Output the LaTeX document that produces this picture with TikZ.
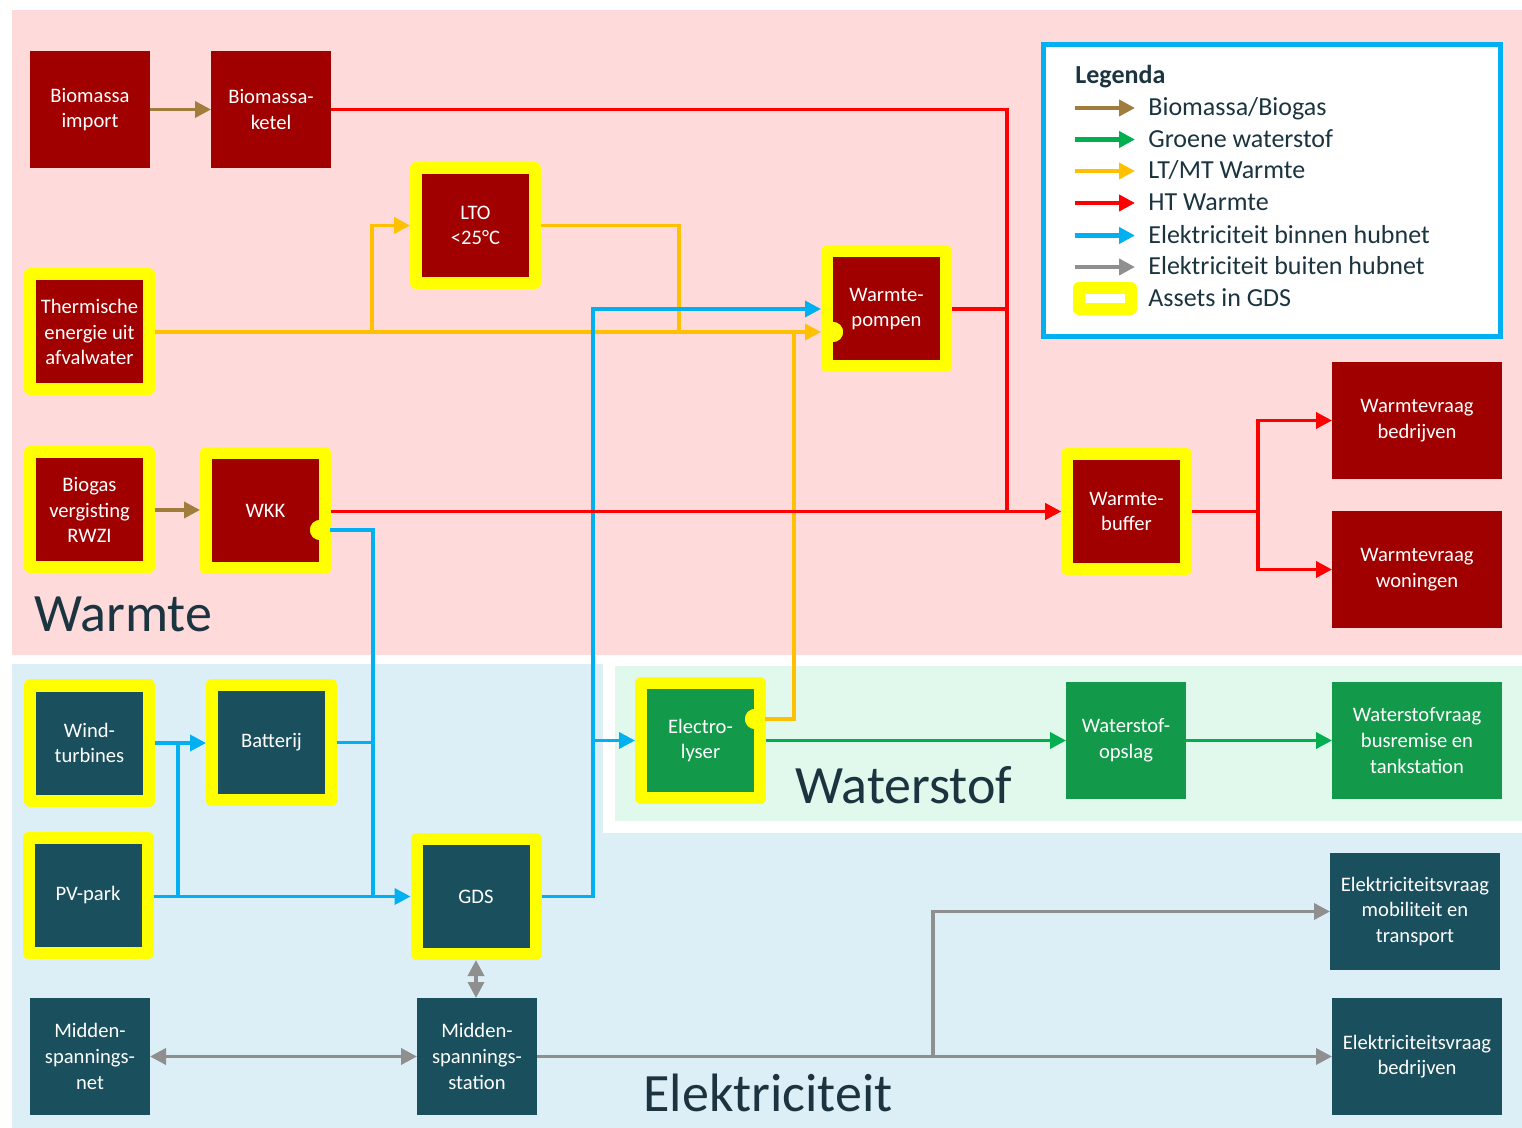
\documentclass[tikz,border=0pt]{standalone}
\usepackage{fontspec}
\setmainfont{Carlito}
\usetikzlibrary{arrows.meta}
\definecolor{dred}{HTML}{A00000}
\definecolor{dteal}{HTML}{1A4F5E}
\definecolor{hgreen}{HTML}{13994A}
\definecolor{yel}{HTML}{FFFF00}
\definecolor{cbrown}{HTML}{A07D3C}
\definecolor{cred}{HTML}{FF0000}
\definecolor{corange}{HTML}{FFC000}
\definecolor{cblue}{HTML}{00B0F0}
\definecolor{cgray}{HTML}{8F8F8F}
\definecolor{cgreen}{HTML}{00B050}
\definecolor{bgpink}{HTML}{FFDADA}
\definecolor{bgblue}{HTML}{DCEEF6}
\definecolor{bggreen}{HTML}{E0F9EC}
\definecolor{ltext}{HTML}{1B3440}
\begin{document}
\begin{tikzpicture}[x=0.5pt,y=-0.5pt,
  box/.style={inner sep=0pt, outer sep=0pt, align=center, text=white,
    font=\fontsize{10.3}{12.8}\selectfont, minimum width=60pt, minimum height=58.5pt},
  rbox/.style={box, fill=dred},
  tbox/.style={box, fill=dteal},
  gbox/.style={box, fill=hgreen},
  wide/.style={minimum width=85pt},
  gdsasset/.style={draw=yel, line width=6pt, line join=round, outer sep=3pt,
    minimum width=59.5pt, minimum height=57.5pt},
  dotn/.style={circle, fill=yel, inner sep=0pt, outer sep=0pt, minimum size=10pt},
  con/.style={line width=1.8pt},
  arr/.style={-{Triangle[length=8pt,width=8pt]}},
  darr/.style={{Triangle[length=8pt,width=8pt]}-{Triangle[length=8pt,width=8pt]}},
  bioline/.style={con, draw=cbrown},
  htline/.style={con, draw=cred},
  ltline/.style={con, draw=corange},
  elin/.style={con, draw=cblue},
  eloutline/.style={con, draw=cgray},
  h2line/.style={con, draw=cgreen},
  biglabel/.style={font=\fontsize{27}{32}\selectfont, text=ltext, inner sep=0pt, anchor=base west},
  legtext/.style={font=\fontsize{13}{15}\selectfont, text=ltext, inner sep=0pt, anchor=base west},
  legarrow/.style={line width=2.3pt, arr}
]
\useasboundingbox (0,0) rectangle (1522,1128);
% backgrounds
\fill[white] (0,0) rectangle (1522,1128);
\fill[bgpink] (12,10) rectangle (1522,655);
\fill[bgblue] (12,664) rectangle (1522,1128);
\fill[white] (603,664) rectangle (1522,833);
\fill[bggreen] (615,666) rectangle (1522,821);

% region labels
\node[biglabel] (lwarmte) at (34,632) {Warmte};
\node[biglabel] (lwater) at (795,803) {Waterstof};
\node[biglabel] (lelek) at (643,1111) {Elektriciteit};

% nodes
\node[rbox] (bimp) at (90,109.5) {Biomassa\\import};
\node[rbox] (bket) at (271,109.5) {Biomassa-\\ketel};
\node[rbox,gdsasset] (lto) at (475.5,225.5) {LTO\\<25°C};
\node[rbox,gdsasset] (therm) at (89.5,332) {Thermische\\energie uit\\afvalwater};
\node[rbox,gdsasset] (wp) at (886.5,309) {Warmte-\\pompen};
\node[rbox,gdsasset] (wbuf) at (1126.5,511.5) {Warmte-\\buffer};
\node[rbox,wide] (wvb) at (1417,420.5) {Warmtevraag\\bedrijven};
\node[rbox,wide] (wvw) at (1417,569.5) {Warmtevraag\\woningen};
\node[rbox,gdsasset] (biogas) at (89.5,510) {Biogas\\vergisting\\RWZI};
\node[rbox,gdsasset] (wkk) at (265.5,511) {WKK};
\node[tbox,gdsasset] (wind) at (89.5,743) {Wind-\\turbines};
\node[tbox,gdsasset] (batt) at (271.5,742.5) {Batterij};
\node[tbox,gdsasset] (pv) at (88,895.5) {PV-park};
\node[tbox,gdsasset] (gdsn) at (476,896.5) {GDS};
\node[tbox] (msnet) at (90,1056.5) {Midden-\\spannings-\\net};
\node[tbox] (msst) at (477,1056.5) {Midden-\\spannings-\\station};
\node[gbox,gdsasset] (elec) at (700.5,740.5) {Electro-\\lyser};
\node[gbox] (wsop) at (1126,740.5) {Waterstof-\\opslag};
\node[gbox,wide] (wsvr) at (1417,740.5) {Waterstofvraag\\busremise en\\tankstation};
\node[tbox,wide] (evmob) at (1415,911.5) {Elektriciteitsvraag\\mobiliteit en\\transport};
\node[tbox,wide] (evbed) at (1417,1056.5) {Elektriciteitsvraag\\bedrijven};

% port dots
\node[dotn] (dwkk) at (320,530) {};
\node[dotn] (dwp) at (833,332) {};
\node[dotn] (delec) at (755,719) {};

% junction coordinates
\coordinate (jR) at (1007,511.5);
\coordinate (jB) at (1258,511.5);
\coordinate (jT) at (372,332);
\coordinate (jL) at (679,332);
\coordinate (jE) at (794,332);
\coordinate (jW) at (373,896.5);
\coordinate (jWt) at (178,743);
\coordinate (jG) at (593,896.5);
\coordinate (jM) at (933,1056.5);

% brown
\draw[bioline,arr] (bimp.east) -- (bket.west);
\draw[bioline,arr] (biogas.east) -- (biogas.east -| wkk.west);

% LT/MT heat
\draw[ltline,arr] (therm.east) -- (therm.east -| wp.west);
\draw[ltline,arr] (jT) |- (lto.west);
\draw[ltline] (lto.east) -| (jL);
\draw[ltline] (delec) -| (jE);

% electricity inside hub
\draw[elin] (dwkk) -| (jW);
\draw[elin,arr] (wind.east) -- (wind.east -| batt.west);
\draw[elin] (jWt) -- (jWt |- gdsn.west);
\draw[elin] (batt.east) -- (batt.east -| jW);
\draw[elin,arr] (pv.east |- gdsn.west) -- (gdsn.west);
\draw[elin,arr] (gdsn.east) -- (jG) |- (wp.west);
\draw[elin,arr] (jG |- elec.west) -- (elec.west);

% HT heat
\draw[htline,arr] (bket.east) -| (jR) -- (wbuf.west);
\draw[htline] (wp.east) -- (wp.east -| jR);
\draw[htline,arr] (wkk.east |- wbuf.west) -- (wbuf.west);
\draw[htline] (wbuf.east) -- (jB);
\draw[htline,arr] (jB) |- (wvb.west);
\draw[htline,arr] (jB) |- (wvw.west);

% hydrogen
\draw[h2line,arr] (elec.east) -- (wsop.west);
\draw[h2line,arr] (wsop.east) -- (wsvr.west);

% electricity outside hub
\draw[eloutline,darr] (gdsn.south) -- (gdsn.south |- msst.north);
\draw[eloutline,darr] (msnet.east) -- (msst.west);
\draw[eloutline,arr] (msst.east) -- (evbed.west);
\draw[eloutline,arr] (jM) |- (evmob.west);

% redraw dots on top
\fill[yel] (dwkk) circle (5pt);
\fill[yel] (dwp) circle (5pt);
\fill[yel] (delec) circle (5pt);

% legend
\node[draw=cblue, line width=2.5pt, fill=white, minimum width=228.5pt, minimum height=146pt,
  inner sep=0pt, outer sep=0pt] (legend) at (1272,190.5) {};
\node[legtext, font=\bfseries\fontsize{13}{15}\selectfont] (legtitle) at (1075,84) {Legenda};
\coordinate (la1) at (1075,108); \coordinate (lb1) at (1135,108);
\coordinate (la2) at (1075,139.5); \coordinate (lb2) at (1135,139.5);
\coordinate (la3) at (1075,171); \coordinate (lb3) at (1135,171);
\coordinate (la4) at (1075,203); \coordinate (lb4) at (1135,203);
\coordinate (la5) at (1075,235.5); \coordinate (lb5) at (1135,235.5);
\coordinate (la6) at (1075,267); \coordinate (lb6) at (1135,267);
\draw[legarrow, draw=cbrown] (la1) -- (lb1);
\draw[legarrow, draw=cgreen] (la2) -- (lb2);
\draw[legarrow, draw=corange] (la3) -- (lb3);
\draw[legarrow, draw=cred] (la4) -- (lb4);
\draw[legarrow, draw=cblue] (la5) -- (lb5);
\draw[legarrow, draw=cgray] (la6) -- (lb6);
\node[draw=yel, fill=white, line width=6pt, line join=round, minimum width=26pt, minimum height=10.5pt,
  inner sep=0pt] (legasset) at (1105,298.5) {};
\node[legtext] (lt1) at (1148,116) {Biomassa/Biogas};
\node[legtext] (lt2) at (1148,147.5) {Groene waterstof};
\node[legtext] (lt3) at (1148,179) {LT/MT Warmte};
\node[legtext] (lt4) at (1148,211) {HT Warmte};
\node[legtext] (lt5) at (1148,243.5) {Elektriciteit binnen hubnet};
\node[legtext] (lt6) at (1148,275) {Elektriciteit buiten hubnet};
\node[legtext] (lt7) at (1148,307) {Assets in GDS};
\end{tikzpicture}
\end{document}
